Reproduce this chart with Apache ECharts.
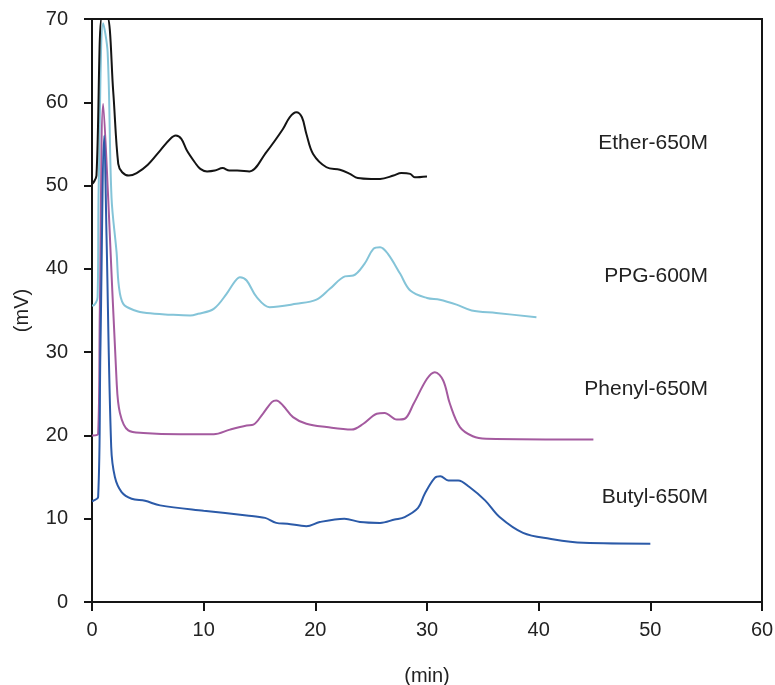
<!DOCTYPE html>
<html>
<head>
<meta charset="utf-8">
<script src="https://cdn.jsdelivr.net/npm/echarts@6/dist/echarts.min.js"></script>
<style>
html,body{margin:0;padding:0;background:#fff;}
#chart{width:775px;height:685px;}
</style>
</head>
<body>
<div id="chart"></div>
<script>
// x ticks and y ticks
const xTicks = [0, 10, 20, 30, 40, 50, 60];
const yTicks = [0, 10, 20, 30, 40, 50, 60, 70];

const seriesNames = ['Ether-650M', 'PPG-600M', 'Phenyl-650M', 'Butyl-650M'];

// Ether-650M
const etherT = [0, 0.15, 0.4, 0.9, 1.35, 1.9, 2.35, 2.7, 3.3, 4.0, 5.0, 6.1, 7.0, 7.5, 8.0, 8.5, 9.2, 9.7, 10.3, 11.0, 11.7, 12.3, 13.0, 14.1, 15.6, 17.1, 17.7, 18.3, 18.8, 19.2, 19.8, 21.0, 22.2, 23.1, 23.8, 25.0, 25.8, 27.0, 27.7, 28.5, 28.9, 30.0];
const etherV = [50.2, 50.4, 51.2, 70.3, 70.3, 61.3, 52.6, 51.6, 51.2, 51.5, 52.5, 54.2, 55.6, 56.0, 55.6, 54.2, 52.8, 52.0, 51.7, 51.8, 52.1, 51.8, 51.8, 51.7, 54.0, 56.8, 58.2, 58.8, 58.2, 56.2, 53.8, 52.2, 51.9, 51.4, 50.9, 50.8, 50.8, 51.2, 51.5, 51.4, 51.0, 51.1];

// PPG-600M
const ppgT = [0, 0.1, 0.5, 0.6, 1.0, 1.4, 1.75, 2.2, 2.4, 2.8, 3.85, 4.9, 7.0, 8.8, 9.5, 10.9, 12.05, 12.8, 13.25, 13.85, 14.75, 15.9, 18.3, 20.1, 21.3, 22.65, 23.4, 24.4, 25.2, 25.8, 26.5, 27.6, 28.5, 30.0, 31.15, 32.65, 34.0, 36.2, 39.8];
const ppgV = [35.6, 35.6, 36.6, 50, 69.5, 66, 48.5, 42, 38, 35.8, 35.0, 34.7, 34.5, 34.4, 34.6, 35.2, 37.0, 38.5, 39.0, 38.6, 36.6, 35.4, 35.8, 36.3, 37.6, 39.1, 39.2, 40.6, 42.4, 42.6, 41.8, 39.4, 37.4, 36.5, 36.3, 35.7, 35.0, 34.7, 34.2];

// Phenyl-650M
const phenylT = [0, 0.1, 0.55, 0.7, 1.0, 1.46, 2.2, 2.5, 3.25, 4.6, 7.9, 10.9, 12.35, 13.85, 14.45, 15.3, 16.1, 16.5, 17.1, 18.0, 19.2, 21.0, 23.25, 24.3, 25.5, 26.2, 27.3, 28.0, 28.8, 30.0, 30.7, 31.45, 32.05, 32.95, 34.1, 35.3, 44.9];
const phenylV = [20.0, 20.0, 20.2, 35, 59.8, 48.2, 26.6, 22.7, 20.6, 20.3, 20.15, 20.15, 20.7, 21.2, 21.3, 22.6, 24.0, 24.2, 23.6, 22.2, 21.4, 21.0, 20.7, 21.4, 22.6, 22.7, 21.9, 22.0, 23.8, 26.8, 27.6, 26.6, 23.8, 21.0, 19.9, 19.6, 19.5];

// Butyl-650M
const butylT = [0, 0.1, 0.55, 0.75, 1.1, 1.3, 1.72, 2.05, 2.65, 3.55, 4.75, 6.1, 10.0, 13.85, 15.5, 16.5, 17.5, 19.2, 20.4, 22.6, 24.0, 25.8, 27.1, 28.0, 29.2, 29.8, 30.7, 31.2, 31.9, 32.8, 33.8, 35.2, 36.5, 38.6, 41.0, 44.0, 50.0];
const butylV = [12.1, 12.15, 12.6, 30, 56, 44, 18.6, 15.0, 13.2, 12.4, 12.15, 11.6, 10.95, 10.4, 10.1, 9.5, 9.4, 9.1, 9.6, 10.0, 9.6, 9.5, 9.9, 10.2, 11.3, 13.0, 14.9, 15.1, 14.6, 14.6, 13.8, 12.2, 10.2, 8.3, 7.6, 7.1, 7.0];

const colors = ['#141414', '#84c4d8', '#a45a9f', '#2b5aa8'];
const FONT = '"Liberation Sans", Arial, Helvetica, sans-serif';

function pairs(t, v) { return t.map((x, i) => [x, v[i]]); }

const allData = [pairs(etherT, etherV), pairs(ppgT, ppgV), pairs(phenylT, phenylV), pairs(butylT, butylV)];
const labelY = [144, 277, 390, 498];

const chart = echarts.init(document.getElementById('chart'), null, {renderer: 'canvas'});
chart.setOption({
  animation: false,
  backgroundColor: '#ffffff',
  grid: {left: 92, right: 13, top: 19, bottom: 83, show: true, borderColor: '#151515', borderWidth: 2, containLabel: false, outerBoundsMode: 'none'},
  xAxis: {
    type: 'value', min: xTicks[0], max: xTicks[xTicks.length - 1], interval: 10,
    name: '(min)', nameLocation: 'middle', nameGap: 64,
    nameTextStyle: {fontFamily: FONT, fontSize: 20, color: '#222'},
    axisLine: {show: true, lineStyle: {color: '#151515', width: 2}},
    axisTick: {show: true, inside: false, length: 9, lineStyle: {color: '#151515', width: 2}},
    axisLabel: {fontFamily: FONT, fontSize: 20, color: '#222', margin: 18},
    splitLine: {show: false}
  },
  yAxis: {
    type: 'value', min: yTicks[0], max: yTicks[yTicks.length - 1], interval: 10,
    name: '(mV)', nameLocation: 'middle', nameGap: 60, nameRotate: 90,
    nameTextStyle: {fontFamily: FONT, fontSize: 20, color: '#222'},
    axisLine: {show: true, lineStyle: {color: '#151515', width: 2}},
    axisTick: {show: true, inside: false, length: 8, lineStyle: {color: '#151515', width: 2}},
    axisLabel: {fontFamily: FONT, fontSize: 20, color: '#222', margin: 24},
    splitLine: {show: false}
  },
  graphic: seriesNames.map((n, i) => ({
    type: 'text', right: 775 - 708, top: labelY[i] - 11,
    style: {text: n, font: '21px ' + FONT, fill: '#222'}
  })),
  series: seriesNames.map((n, i) => ({
    name: n, type: 'line', data: allData[i], showSymbol: false, symbol: 'none',
    smooth: 0.35, clip: true,
    lineStyle: {color: colors[i], width: 2},
    z: [3, 2, 4, 5][i]
  }))
});
</script>
</body>
</html>
